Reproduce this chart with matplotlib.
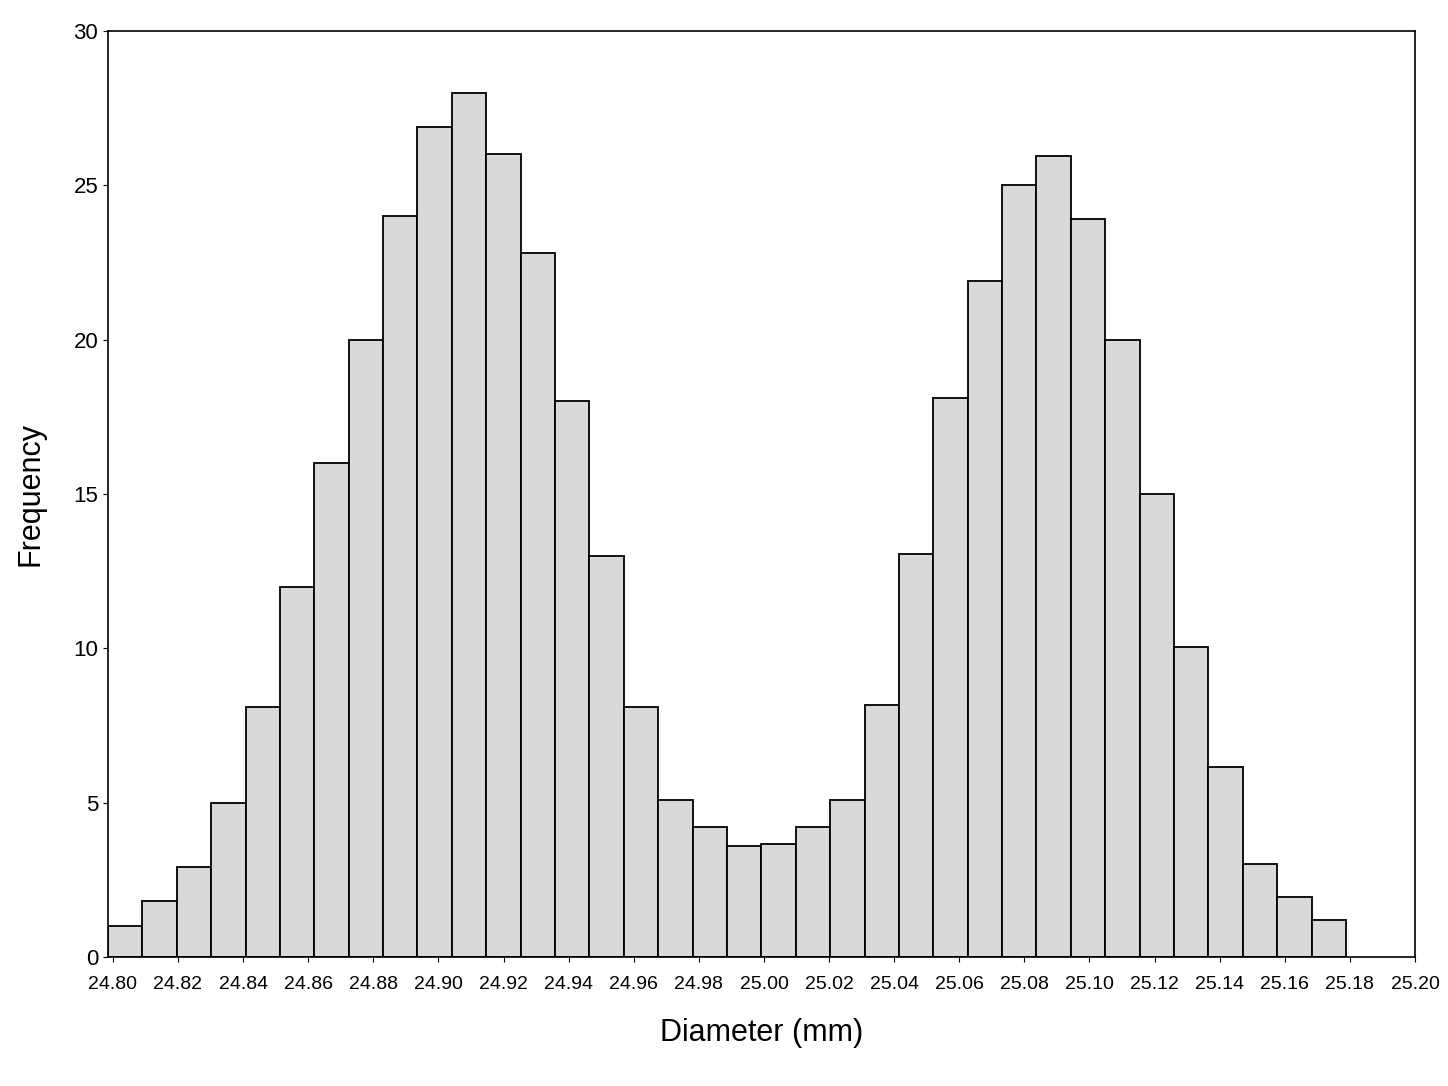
import numpy as np
import matplotlib
matplotlib.use("Agg")
import matplotlib.pyplot as plt

freq = [1.0, 1.8, 2.9, 5.0, 8.1, 12, 16, 20, 24, 26.9, 28, 26, 22.8, 18, 13, 8.1, 5.1, 4.2,
        3.6, 3.65, 4.2, 5.1, 8.15, 13.05, 18.1, 21.9, 25, 25.95, 23.9, 20, 15, 10.05, 6.15, 3.0, 1.95, 1.2]
xticks = [24.80 + 0.02 * i for i in range(21)]
xlabels = [f"{v:.2f}" for v in xticks]

lo, hi = 24.7985, 25.1788
edges = np.linspace(lo, hi, len(freq) + 1)

fig = plt.figure(figsize=(14.48, 10.86), dpi=100)
ax = fig.add_axes([108/1448, 1-957/1086, (1415-108)/1448, (957-31)/1086])
ax.bar(edges[:-1], freq, width=np.diff(edges), align='edge', color='#d9d9d9',
       edgecolor='black', linewidth=1.3)
ax.set_xlim(lo, 25.20)
ax.set_ylim(0, 30)
ax.set_xticks(xticks)
ax.set_xticklabels(xlabels, fontsize=14, family='Liberation Sans')
ax.set_yticks(range(0, 31, 5))
ax.tick_params(axis='y', labelsize=16)
for t in ax.get_yticklabels():
    t.set_family('Liberation Sans')
ax.tick_params(axis='x', pad=10)
ax.set_xlabel("Diameter (mm)", fontsize=22, labelpad=18, family='Liberation Sans')
ax.set_ylabel("Frequency", fontsize=22, labelpad=20, family='Liberation Sans')
for s in ax.spines.values():
    s.set_linewidth(1.2)
fig.savefig("out.png", dpi=100)
